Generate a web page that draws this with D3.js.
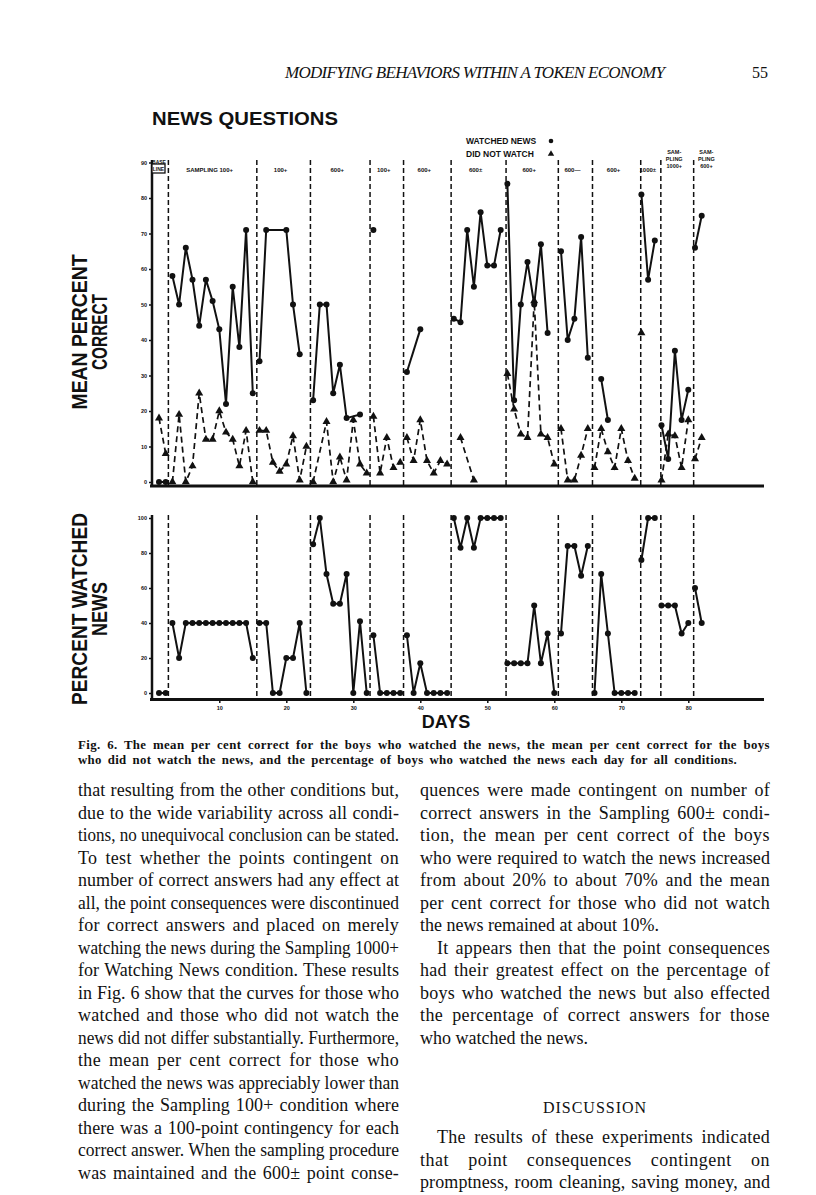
<!DOCTYPE html>
<html>
<head>
<meta charset="utf-8">
<script src="https://cdn.jsdelivr.net/npm/d3@7"></script>
<style>
  body { margin: 0; background: #fff; }
</style>
</head>
<body>
<div id="page"></div>
<script>
// values by day 1..82, null = no point that day
let watched = [
  0, 0,
  58, 50, 66, 57, 44, 57, 51, 43, 22, 55, 38, 71, 25,
  34, 71, null, null, 71, 50, 36, null,
  23, 50, 50, 25, 33, 18, null, 19, null,
  71, null, null, null, null,
  31, null, 43, null, null, null, null,
  46, 45, 71, 55, 76, 61, 61, 71,
  84, 23, 50, 62, 50, 67, 42, null,
  65, 40, 46, 69, 35,
  null, 29, 17.5, null, null, null, null,
  81, 57, 68,
  16, 6.5, 37, 17.5, 26,
  66, 75
];
let notWatched = [
  18, 8,
  0, 19, 0, 4.5, 25, 12, 12, 20, 14, 12, 4.5, 14.5, 0,
  14.5, 14.5, 5.5, 3, 5, 13, 0.5, 10,
  0, null, 17, 0, 7, 0.5, 17.5, 5, 2.5,
  18.5, 2.5, 12.5, 4, 5.5,
  12.5, 6, 17.5, 6, 2.5, 6, 5,
  null, 12.5, null, 0.5, null, null, null, null,
  30.5, 20.5, 13.5, 12.5, 51, 13.5, 12.5, 5,
  15, 0.5, 0.5, 7.5, 15,
  4, 15, 8.5, 4, 15, 6, 1,
  42, null, null,
  0.5, 13.5, 13, 4, 17.5,
  6.5, 12.5
];
let pctWatched = [
  0, 0,
  40, 20, 40, 40, 40, 40, 40, 40, 40, 40, 40, 40, 20,
  40, 40, 0, 0, 20, 20, 40, 0,
  85, 100, 68, 51, 51, 68, 0, 41, 0,
  33, 0, 0, 0, 0,
  33, 0, 17, 0, 0, 0, 0,
  100, 83, 100, 83, 100, 100, 100, 100,
  17, 17, 17, 17, 50, 17, 34, 0,
  34, 84, 84, 67, 84,
  0, 68, 34, 0, 0, 0, 0,
  76, 100, 100,
  50, 50, 50, 34, 40,
  60, 40
];
let phaseStarts = [1, 3, 16, 24, 33, 38, 45, 53, 61, 66, 73, 76, 81];
let phaseBreaks = [2.4, 15.6, 23.6, 32.5, 37.5, 44.6, 52.8, 60.6, 65.7, 72.9, 75.9, 80.8];
let phaseLabels = [null, ["SAMPLING 100+"], ["100+"], ["600+"], ["100+"], ["600+"], ["600±"],
  ["600+"], ["600—"], ["600+"], ["1000±"], ["SAM-", "PLING", "1000+"], ["SAM-", "PLING", "600+"]];
let yTicksTop = [0, 10, 20, 30, 40, 50, 60, 70, 80, 90];
let yTicksBottom = [0, 20, 40, 60, 80, 100];
let xTicks = [10, 20, 30, 40, 50, 60, 70, 80];

let caption = [
  "Fig. 6. The mean per cent correct for the boys who watched the news, the mean per cent correct for the boys",
  "who did not watch the news, and the percentage of boys who watched the news each day for all conditions."
];
let leftLines = [
  "that resulting from the other conditions but,",
  "due to the wide variability across all condi-",
  "tions, no unequivocal conclusion can be stated.",
  "To test whether the points contingent on",
  "number of correct answers had any effect at",
  "all, the point consequences were discontinued",
  "for correct answers and placed on merely",
  "watching the news during the Sampling 1000+",
  "for Watching News condition. These results",
  "in Fig. 6 show that the curves for those who",
  "watched and those who did not watch the",
  "news did not differ substantially. Furthermore,",
  "the mean per cent correct for those who",
  "watched the news was appreciably lower than",
  "during the Sampling 100+ condition where",
  "there was a 100-point contingency for each",
  "correct answer. When the sampling procedure",
  "was maintained and the 600± point conse-"
];
let rightLines = [
  "quences were made contingent on number of",
  "correct answers in the Sampling 600± condi-",
  "tion, the mean per cent correct of the boys",
  "who were required to watch the news increased",
  "from about 20% to about 70% and the mean",
  "per cent correct for those who did not watch",
  "the news remained at about 10%.",
  "It appears then that the point consequences",
  "had their greatest effect on the percentage of",
  "boys who watched the news but also effected",
  "the percentage of correct answers for those",
  "who watched the news."
];
let discussionLines = [
  "The results of these experiments indicated",
  "that point consequences contingent on",
  "promptness, room cleaning, saving money, and"
];

let width = 816, height = 1195;
let ink = "#111";
let sans = "'Liberation Sans', Arial, sans-serif";
let serif = "'Liberation Serif', 'Times New Roman', serif";

let svg = d3.select("#page").append("svg")
  .attr("width", width)
  .attr("height", height)
  .style("background", "#fff");

let x = d3.scaleLinear().domain([0, 91]).range([152.3, 762]);
let yTop = d3.scaleLinear().domain([0, 90]).range([482, 162.5]);
let yBot = d3.scaleLinear().domain([0, 100]).range([693, 518]);

// stretch a line to a width: half the slack between letters, half between words
function justify(el, w) {
  let n = el.node().getComputedTextLength();
  let gaps = (el.text().match(/ /g) || []).length;
  let chars = el.text().length;
  if (n > w + 0.5 || !gaps) {
    el.attr("textLength", w).attr("lengthAdjust", "spacingAndGlyphs");
    return;
  }
  let slack = w - n;
  let ls = Math.min(0.5, slack * 0.4 / chars);
  el.style("letter-spacing", ls + "px")
    .attr("word-spacing", (slack - ls * chars) / gaps);
}

// page header
svg.append("text")
  .attr("x", 285).attr("y", 78)
  .attr("textLength", 380).attr("lengthAdjust", "spacing")
  .style("font-family", serif).style("font-style", "italic")
  .style("font-size", "17px").attr("fill", ink)
  .text("MODIFYING BEHAVIORS WITHIN A TOKEN ECONOMY");
svg.append("text")
  .attr("x", 768).attr("y", 78).attr("text-anchor", "end")
  .style("font-family", serif).style("font-size", "16px").attr("fill", ink)
  .text("55");

svg.append("text")
  .attr("x", 152).attr("y", 125)
  .attr("textLength", 186).attr("lengthAdjust", "spacingAndGlyphs")
  .style("font-family", sans).style("font-weight", "bold")
  .style("font-size", "18px").attr("fill", ink)
  .text("NEWS QUESTIONS");

// legend
let legend = svg.append("g").attr("transform", "translate(466,0)");
legend.append("text").attr("x", 0).attr("y", 144)
  .style("font-family", sans).style("font-weight", "bold").style("font-size", "8.5px").attr("fill", ink)
  .text("WATCHED NEWS");
legend.append("circle").attr("cx", 85).attr("cy", 141).attr("r", 2.3).attr("fill", ink);
legend.append("text").attr("x", 0).attr("y", 157)
  .style("font-family", sans).style("font-weight", "bold").style("font-size", "8.5px").attr("fill", ink)
  .text("DID NOT WATCH");
legend.append("path").attr("d", d3.symbol(d3.symbolTriangle, 18)())
  .attr("transform", "translate(85,154)").attr("fill", ink);

function drawPanel(yScale, top, bottom, ticks) {
  let g = svg.append("g");

  g.selectAll(".phase")
    .data(phaseBreaks)
    .enter().append("line")
    .attr("x1", d => x(d)).attr("x2", d => x(d))
    .attr("y1", top).attr("y2", bottom)
    .attr("stroke", ink).attr("stroke-width", 1.5)
    .attr("stroke-dasharray", "5,3");

  let yAxis = g.append("g")
    .attr("transform", "translate(152,0)")
    .call(d3.axisLeft(yScale).tickValues(ticks).tickSize(3).tickPadding(2));
  yAxis.select(".domain").remove();
  yAxis.selectAll("line").attr("stroke", ink).attr("stroke-width", 1.5);
  yAxis.selectAll("text")
    .style("font-family", sans).style("font-weight", "bold").style("font-size", "5.5px").attr("fill", ink);

  g.append("line")
    .attr("x1", 152).attr("x2", 152).attr("y1", top).attr("y2", bottom + 1)
    .attr("stroke", ink).attr("stroke-width", 2.5);
  g.append("line")
    .attr("x1", 150).attr("x2", 764).attr("y1", bottom).attr("y2", bottom)
    .attr("stroke", ink).attr("stroke-width", 3);
  return g;
}

function phaseSegments(values) {
  return phaseStarts.map((s, i) => {
    let e = i + 1 < phaseStarts.length ? phaseStarts[i + 1] - 1 : values.length;
    let pts = [];
    for (let d = s; d <= e; d++) {
      if (values[d - 1] != null) pts.push([d, values[d - 1]]);
    }
    return pts;
  });
}

function drawSeries(g, values, yScale, dashed, marker) {
  let line = d3.line().x(d => x(d[0])).y(d => yScale(d[1]));
  let segs = phaseSegments(values).filter(s => s.length > 1);
  g.selectAll(null)
    .data(segs)
    .enter().append("path")
    .attr("d", line)
    .attr("fill", "none")
    .attr("stroke", ink)
    .attr("stroke-width", dashed ? 1.7 : 2)
    .attr("stroke-dasharray", dashed ? "6,4" : null);

  let pts = values.map((v, i) => [i + 1, v]).filter(d => d[1] != null);
  if (marker === "circle") {
    g.selectAll(null).data(pts).enter().append("circle")
      .attr("cx", d => x(d[0])).attr("cy", d => yScale(d[1]))
      .attr("r", 3).attr("fill", ink);
  } else {
    g.selectAll(null).data(pts).enter().append("path")
      .attr("d", d3.symbol(d3.symbolTriangle, 28)())
      .attr("transform", d => `translate(${x(d[0])},${yScale(d[1])})`)
      .attr("fill", ink);
  }
}

// top panel
let topG = drawPanel(yTop, 160, 486, yTicksTop);
drawSeries(topG, notWatched, yTop, true, "triangle");
drawSeries(topG, watched, yTop, false, "circle");

// base line box
topG.append("rect").attr("x", 152).attr("y", 164).attr("width", 13).attr("height", 9)
  .attr("fill", "#fff").attr("stroke", ink).attr("stroke-width", 1.3);
topG.append("text").attr("x", 159).attr("y", 164).attr("text-anchor", "middle")
  .style("font-family", sans).style("font-weight", "bold").style("font-size", "5px").attr("fill", ink)
  .text("BASE");
topG.append("text").attr("x", 158.5).attr("y", 171).attr("text-anchor", "middle")
  .style("font-family", sans).style("font-weight", "bold").style("font-size", "5px").attr("fill", ink)
  .text("LINE");

// condition labels
let phaseEnds = phaseBreaks.concat([85.5]);
phaseLabels.forEach((lab, i) => {
  if (!lab) return;
  let cx = x((phaseBreaks[i - 1] + phaseEnds[i]) / 2) - 3;
  let y0 = lab.length > 1 ? 154 : 172;
  lab.forEach((t, j) => {
    topG.append("text")
      .attr("x", cx).attr("y", y0 + j * 7)
      .attr("text-anchor", "middle")
      .style("font-family", sans).style("font-weight", "bold")
      .style("font-size", lab.length > 1 ? "5.5px" : "6px").attr("fill", ink)
      .text(t);
  });
});

// bottom panel
let botG = drawPanel(yBot, 515, 699.5, yTicksBottom);
drawSeries(botG, pctWatched, yBot, false, "circle");

let xAxis = botG.append("g")
  .attr("transform", "translate(0,700)")
  .call(d3.axisBottom(x).tickValues(xTicks).tickSize(3).tickPadding(3));
xAxis.select(".domain").remove();
xAxis.selectAll("line").attr("stroke", ink).attr("stroke-width", 1.5);
xAxis.selectAll("text")
  .style("font-family", sans).style("font-weight", "bold").style("font-size", "5.5px").attr("fill", ink);

svg.append("text")
  .attr("x", 446).attr("y", 728).attr("text-anchor", "middle")
  .style("font-family", sans).style("font-weight", "bold").style("font-size", "18px").attr("fill", ink)
  .text("DAYS");

// rotated y titles
function yTitle(lines, cy, lengths) {
  lines.forEach((t, i) => {
    svg.append("text")
      .attr("transform", `translate(${87 + i * 20},${cy}) rotate(-90)`)
      .attr("text-anchor", "middle")
      .attr("textLength", lengths[i]).attr("lengthAdjust", "spacingAndGlyphs")
      .style("font-family", sans).style("font-weight", "bold").style("font-size", "22px").attr("fill", ink)
      .text(t);
  });
}
yTitle(["MEAN PERCENT", "CORRECT"], 332, [155, 76]);
yTitle(["PERCENT WATCHED", "NEWS"], 609, [192, 54]);

// caption
caption.forEach((t, i) => {
  let el = svg.append("text")
    .attr("x", 78).attr("y", 749 + i * 15)
    .style("font-family", serif).style("font-weight", "bold").style("font-size", "12.8px")
    .attr("fill", ink)
    .text(t);
  justify(el, i === 0 ? 692 : 659);
});

// body text
function column(lines, x0, w, y0, ragged) {
  lines.forEach((t, i) => {
    let indent = /^(It appears|The results)/.test(t) ? 17 : 0;
    let el = svg.append("text")
      .attr("x", x0 + indent).attr("y", y0 + i * 22.5)
      .style("font-family", serif).style("font-size", "18px").attr("fill", ink)
      .text(t);
    if (!ragged.includes(i)) justify(el, w - indent);
  });
}
column(leftLines, 78, 321, 796, []);
column(rightLines, 420, 350, 796, [6, 11]);
svg.append("text")
  .attr("x", 595).attr("y", 1113).attr("text-anchor", "middle")
  .style("font-family", serif).style("font-size", "16px").style("letter-spacing", "1px").attr("fill", ink)
  .text("DISCUSSION");
column(discussionLines, 420, 350, 1143, []);
</script>
</body>
</html>
